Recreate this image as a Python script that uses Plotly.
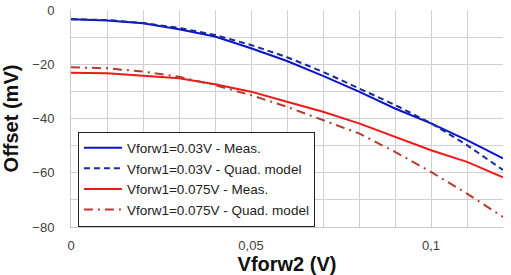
import plotly.graph_objects as go

x = [0, 0.01, 0.02, 0.03, 0.04, 0.05, 0.06, 0.07, 0.08, 0.09, 0.10, 0.11, 0.12]
blue_meas = [-3.4, -3.9, -4.9, -7.1, -9.8, -14.1, -18.8, -24.3, -30.1, -36.3, -41.8, -48.0, -54.7]
blue_quad = [-3.4, -3.7, -4.8, -6.6, -9.2, -12.9, -17.4, -22.8, -28.9, -35.0, -41.7, -49.8, -59.0]
red_meas = [-23.1, -23.3, -24.2, -25.2, -27.4, -30.1, -33.8, -37.5, -41.8, -46.7, -51.7, -56.0, -61.7]
red_quad = [-21.1, -21.5, -22.7, -24.6, -27.7, -31.4, -35.7, -40.6, -45.5, -52.3, -59.7, -67.7, -76.3]

fig = go.Figure()
fig.add_trace(go.Scatter(x=x, y=blue_meas, mode="lines", name="Vforw1=0.03V - Meas.",
                         line=dict(color="#0A14C8", width=2)))
fig.add_trace(go.Scatter(x=x, y=blue_quad, mode="lines", name="Vforw1=0.03V - Quad. model",
                         line=dict(color="#1A2A9A", width=2, dash="6px,4px")))
fig.add_trace(go.Scatter(x=x, y=red_meas, mode="lines", name="Vforw1=0.075V - Meas.",
                         line=dict(color="#F01818", width=2)))
fig.add_trace(go.Scatter(x=x, y=red_quad, mode="lines", name="Vforw1=0.075V - Quad. model",
                         line=dict(color="#B83A2E", width=2, dash="9px,5px,2px,5px")))

fig.update_layout(
    width=511, height=275,
    margin=dict(l=71, r=8, t=10, b=48),
    paper_bgcolor="white", plot_bgcolor="white",
    separators=",.",
    font=dict(family="Arial, Liberation Sans, sans-serif", color="#404040", size=13),
    showlegend=True,
    legend=dict(x=0.016, y=0.44, xanchor="left", yanchor="top",
                bgcolor="white", bordercolor="#222222", borderwidth=1,
                font=dict(size=13.5, color="#222222"), tracegroupgap=0,
                itemwidth=38),
    xaxis=dict(range=[0, 0.12], tickvals=[0, 0.05, 0.1], ticktext=["0", "0,05", "0,1"],
               showgrid=True, gridcolor="#D0D0D0", gridwidth=1,
               minor=dict(dtick=0.01, showgrid=True, gridcolor="#D0D0D0", gridwidth=1),
               showline=True, linecolor="#C8C8C8", zeroline=False, ticks="", ticklen=0,
               ticklabelstandoff=6, automargin=False,
               title=dict(text="<b>Vforw2 (V)</b>", font=dict(size=20, color="#111111"), standoff=1)),
    yaxis=dict(range=[-80, 0], dtick=20,
               showgrid=True, gridcolor="#D0D0D0", gridwidth=1,
               minor=dict(dtick=10, showgrid=True, gridcolor="#D0D0D0", gridwidth=1),
               showline=True, linecolor="#C8C8C8", zeroline=False, ticks="", ticklen=0,
               ticklabelstandoff=13, automargin=False,
               title=dict(text="<b>Offset (mV)</b>", font=dict(size=20, color="#111111"), standoff=8)),
)
fig.write_html("out.html", config={"displayModeBar": False},
               post_script="document.body.style.margin='0';document.body.style.overflow='hidden';")
